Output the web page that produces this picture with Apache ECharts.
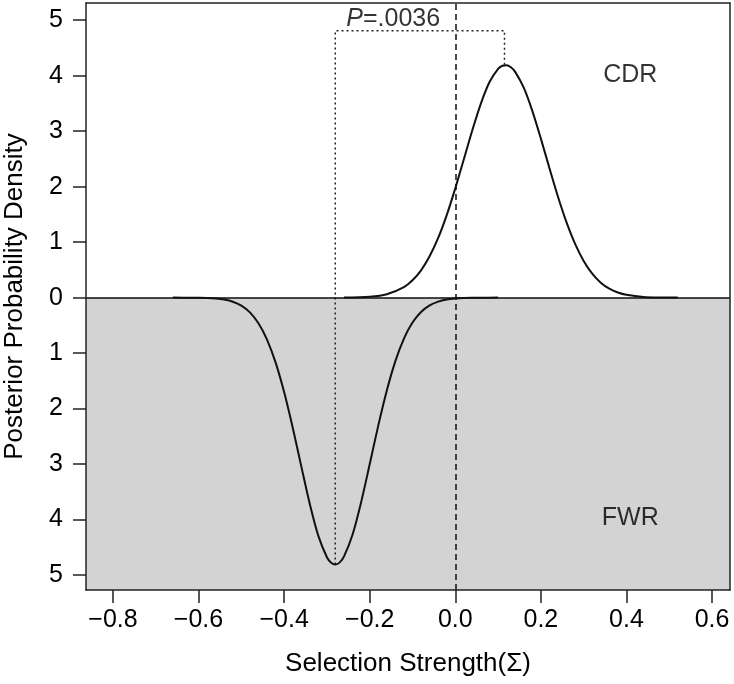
<!DOCTYPE html>
<html><head><meta charset="utf-8">
<script src="https://cdn.jsdelivr.net/npm/echarts@6/dist/echarts.min.js"></script>
<style>html,body{margin:0;padding:0;background:#fff}#c{width:734px;height:684px}</style>
</head><body><div id="c"></div>
<script>
// ---- data ----
const xTicks = [-0.8, -0.6, -0.4, -0.2, 0, 0.2, 0.4, 0.6];
const yTicks = [-5, -4, -3, -2, -1, 0, 1, 2, 3, 4, 5];

// CDR posterior density (upper panel)
const cdrX = [-0.26,-0.20,-0.16,-0.12,-0.10,-0.08,-0.06,-0.04,-0.02,0.00,0.02,0.04,0.06,0.08,0.10,0.11,0.12,0.13,0.14,0.16,0.18,0.20,0.22,0.24,0.26,0.28,0.30,0.32,0.34,0.36,0.38,0.40,0.44,0.48,0.52];
const cdrY = [0,0.016,0.061,0.189,0.312,0.492,0.744,1.075,1.488,1.969,2.493,3.021,3.502,3.885,4.124,4.179,4.188,4.151,4.069,3.784,3.366,2.865,2.334,1.819,1.356,0.967,0.660,0.431,0.270,0.161,0.092,0.051,0.013,0.003,0];

// FWR posterior density (lower panel, drawn downward)
const fwrX = [-0.66,-0.62,-0.60,-0.58,-0.56,-0.54,-0.52,-0.50,-0.48,-0.46,-0.44,-0.42,-0.40,-0.38,-0.36,-0.34,-0.32,-0.30,-0.29,-0.28,-0.27,-0.26,-0.24,-0.22,-0.20,-0.18,-0.16,-0.14,-0.12,-0.10,-0.08,-0.06,-0.04,-0.02,0.00,0.02,0.04,0.06,0.10];
const fwrY = [0,0.001,0.003,0.007,0.016,0.036,0.074,0.145,0.266,0.462,0.756,1.168,1.703,2.341,3.037,3.718,4.294,4.679,4.778,4.81,4.772,4.665,4.269,3.686,3.003,2.307,1.673,1.145,0.739,0.450,0.259,0.140,0.072,0.035,0.016,0.007,0.003,0.001,0];

// dotted bracket joining the two modes
const guideX = [-0.2805, -0.2805, 0.115, 0.115];
const guideY = [-4.81, 4.81, 4.81, 4.18];

// text annotations [x, y, text]
const pLabel = [-0.145, 5.02, 'P=.0036'];
const cdrLabel = [0.409, 4.01, 'CDR'];
const fwrLabel = [0.409, -3.97, 'FWR'];

const X_MIN = -0.863, X_MAX = 0.642, Y_MIN = -5.27, Y_MAX = 5.31;

// ---- chart ----
const FONT = 'Liberation Sans, Arial, Helvetica, sans-serif';
const INK = '#000';
const chart = echarts.init(document.getElementById('c'), null, {renderer: 'canvas'});

const boxLine = {show: true, onZero: false, lineStyle: {color: '#222', width: 1.5}};
const cdrData = cdrX.map((x, i) => [x, cdrY[i]]);
const fwrData = fwrX.map((x, i) => [x, -fwrY[i]]);
const guideData = guideX.map((x, i) => [x, guideY[i]]);

function textSeries(item, rich, fmt) {
  return {
    type: 'scatter', symbolSize: 0, silent: true, z: 6,
    data: [[item[0], item[1]]],
    label: {show: true, position: 'inside', formatter: fmt || item[2], color: INK,
            fontFamily: FONT, fontSize: 25, rich: rich}
  };
}

chart.setOption({
  animation: false,
  backgroundColor: '#fff',
  grid: {left: 86, right: 4, top: 3, bottom: 94, containLabel: false, outerBoundsMode: 'none'},
  xAxis: [{
    type: 'value', position: 'bottom', min: X_MIN, max: X_MAX, z: 10,
    axisLine: boxLine,
    axisTick: {show: true, customValues: xTicks, length: 13, lineStyle: {color: '#222', width: 1.5}},
    axisLabel: {show: true, customValues: xTicks, margin: 18, fontSize: 25, color: INK, fontFamily: FONT,
      formatter: v => (v < -1e-9 ? '\u2212' : '') + Math.abs(v).toFixed(1)},
    splitLine: {show: false},
    name: 'Selection Strength(\u03A3)', nameLocation: 'middle', nameGap: 61,
    nameTextStyle: {fontSize: 26, color: INK, fontFamily: FONT}
  }, {
    type: 'value', position: 'top', min: X_MIN, max: X_MAX, z: 10,
    axisLine: boxLine, axisTick: {show: false}, axisLabel: {show: false}, splitLine: {show: false}
  }],
  yAxis: [{
    type: 'value', position: 'left', min: Y_MIN, max: Y_MAX, z: 10,
    axisLine: boxLine,
    axisTick: {show: true, customValues: yTicks, length: 13, lineStyle: {color: '#222', width: 1.5}},
    axisLabel: {show: true, customValues: yTicks, margin: 23, fontSize: 25, color: INK, fontFamily: FONT,
      formatter: v => String(Math.abs(Math.round(v)))},
    splitLine: {show: false},
    name: 'Posterior Probability Density', nameLocation: 'middle', nameGap: 58, nameRotate: 90,
    nameTextStyle: {fontSize: 26, color: INK, fontFamily: FONT}
  }, {
    type: 'value', position: 'right', min: Y_MIN, max: Y_MAX, z: 10,
    axisLine: boxLine, axisTick: {show: false}, axisLabel: {show: false}, splitLine: {show: false}
  }],
  series: [
    {
      type: 'line', data: [], z: 1, silent: true,
      markArea: {silent: true, itemStyle: {color: '#d3d3d3'},
        data: [[{coord: [X_MIN, Y_MIN]}, {coord: [X_MAX, 0]}]]},
      markLine: {silent: true, symbol: ['none', 'none'], label: {show: false},
        data: [
          {yAxis: 0, lineStyle: {color: '#111', width: 1.5, type: 'solid'}},
          {xAxis: 0, lineStyle: {color: '#111', width: 1.5, type: [6, 4]}}
        ]}
    },
    {
      type: 'line', data: guideData, showSymbol: false, z: 3, silent: true,
      lineStyle: {color: '#222', width: 1.5, type: [2, 3]}
    },
    {
      type: 'line', data: cdrData, smooth: 0.3, showSymbol: false, z: 4,
      lineStyle: {color: '#111', width: 2}
    },
    {
      type: 'line', data: fwrData, smooth: 0.3, showSymbol: false, z: 4,
      lineStyle: {color: '#111', width: 2}
    },
    textSeries(pLabel, {i: {fontStyle: 'italic', fontSize: 25, color: INK, fontFamily: FONT},
                        n: {fontSize: 25, color: INK, fontFamily: FONT}}, '{i|P}{n|=.0036}'),
    textSeries(cdrLabel),
    textSeries(fwrLabel)
  ]
});
</script>
</body></html>
